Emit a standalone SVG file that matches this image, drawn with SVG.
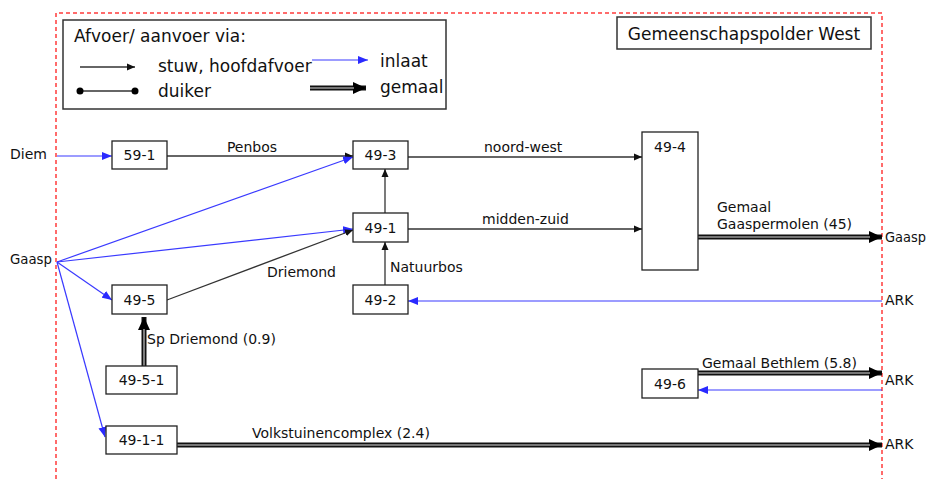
<svg xmlns="http://www.w3.org/2000/svg" width="928" height="479" viewBox="0 0 928 479">
<style>
text{font-family:"DejaVu Sans","Liberation Sans",sans-serif;fill:#111}
.t{font-size:14px}
.L{font-size:17px}
.box{fill:#fff;stroke:#222;stroke-width:1.3}
.blk{stroke:#333;stroke-width:1.3;fill:none;marker-end:url(#ab)}
.blu{stroke:#3a3aff;stroke-width:1.2;fill:none;marker-end:url(#au)}
.gm{stroke:#111;stroke-width:5;fill:none;marker-end:url(#ag)}
.gi{stroke:#999;stroke-width:1.6;fill:none}
.red{stroke:#ff3b3b;stroke-width:1.5;stroke-dasharray:4 3;fill:none}
</style>
<defs>
<marker id="ab" markerUnits="userSpaceOnUse" markerWidth="9" markerHeight="8" refX="8" refY="4" orient="auto"><path d="M0,0.5 L8,4 L0,7.5 z" fill="#111"/></marker>
<marker id="au" markerUnits="userSpaceOnUse" markerWidth="11" markerHeight="9" refX="10" refY="4.5" orient="auto"><path d="M0,0.5 L10,4.5 L0,8.5 z" fill="#2a2aff"/></marker>
<marker id="ag" markerUnits="userSpaceOnUse" markerWidth="14" markerHeight="13" refX="13" refY="6.5" orient="auto"><path d="M0,0.5 L13,6.5 L0,12.5 z" fill="#000"/></marker>
</defs>
<rect width="928" height="479" fill="#fff"/>
<path class="red" d="M56,479 V13 H882 V479"/>

<g id="legend">
<rect x="63" y="20" width="383" height="89" fill="#fff" stroke="#333" stroke-width="1.5"/>
<text class="L" x="74" y="42">Afvoer/ aanvoer via:</text>
<line x1="80" y1="67" x2="135" y2="67" class="blk"/>
<text class="L" x="158" y="72">stuw, hoofdafvoer</text>
<line x1="80" y1="91" x2="135" y2="91" stroke="#333" stroke-width="1.3"/>
<circle cx="80" cy="91" r="3.5" fill="#000"/>
<circle cx="135" cy="91" r="3.5" fill="#000"/>
<text class="L" x="158" y="97">duiker</text>
<line x1="312" y1="60" x2="368" y2="60" class="blu"/>
<text class="L" x="380" y="67">inlaat</text>
<line x1="310" y1="88" x2="366" y2="88" class="gm"/>
<line x1="310" y1="88" x2="354" y2="88" class="gi"/>
<text class="L" x="380" y="93">gemaal</text>
</g>

<g id="title">
<rect x="617" y="17" width="254" height="32" fill="#fff" stroke="#333" stroke-width="1.5"/>
<text class="L" x="744" y="40" text-anchor="middle">Gemeenschapspolder West</text>
</g>

<g id="connectors">
<line x1="57" y1="156" x2="112" y2="156" class="blu"/>
<line x1="167" y1="156" x2="353" y2="156" class="blk"/>
<line x1="57" y1="262" x2="353" y2="157" class="blu"/>
<line x1="57" y1="262" x2="353" y2="229" class="blu"/>
<line x1="57" y1="262" x2="112" y2="300" class="blu"/>
<line x1="57" y1="262" x2="105" y2="437" class="blu"/>
<line x1="167" y1="300" x2="353" y2="230" class="blk"/>
<line x1="385" y1="213" x2="385" y2="169" class="blk"/>
<line x1="385" y1="285" x2="385" y2="242" class="blk"/>
<line x1="882" y1="301" x2="408" y2="301" class="blu"/>
<line x1="408" y1="157" x2="642" y2="157" class="blk"/>
<line x1="408" y1="229" x2="642" y2="229" class="blk"/>
<line x1="698" y1="237" x2="882" y2="237" class="gm"/>
<line x1="698" y1="237" x2="870" y2="237" class="gi"/>
<line x1="144" y1="366" x2="144" y2="317" class="gm"/>
<line x1="144" y1="366" x2="144" y2="329" class="gi"/>
<line x1="177" y1="445" x2="882" y2="445" class="gm"/>
<line x1="177" y1="445" x2="870" y2="445" class="gi"/>
<line x1="698" y1="373" x2="882" y2="373" class="gm"/>
<line x1="698" y1="373" x2="870" y2="373" class="gi"/>
<line x1="882" y1="390" x2="698" y2="390" class="blu"/>
<text class="t" x="252" y="152" text-anchor="middle">Penbos</text>
<text class="t" x="267" y="277">Driemond</text>
<text class="t" x="390" y="272">Natuurbos</text>
<text class="t" x="484" y="152">noord-west</text>
<text class="t" x="482" y="224">midden-zuid</text>
<text class="t" x="717" y="212">Gemaal</text>
<text class="t" x="717" y="229">Gaaspermolen (45)</text>
<text class="t" x="147" y="344">Sp Driemond (0.9)</text>
<text class="t" x="252" y="438">Volkstuinencomplex (2.4)</text>
<text class="t" x="702" y="368">Gemaal Bethlem (5.8)</text>
</g>

<g id="Diem"><text class="t" x="10" y="159">Diem</text></g>
<g id="GaaspL"><text class="t" x="10" y="264" textLength="42" lengthAdjust="spacingAndGlyphs">Gaasp</text></g>
<g id="GaaspR"><text class="t" x="885" y="242" textLength="41" lengthAdjust="spacingAndGlyphs">Gaasp</text></g>
<g id="ARK1"><text class="t" x="885" y="305">ARK</text></g>
<g id="ARK2"><text class="t" x="885" y="385">ARK</text></g>
<g id="ARK3"><text class="t" x="885" y="449">ARK</text></g>

<g id="n59-1"><rect class="box" x="112" y="141" width="55" height="28"/><text class="t" x="139.5" y="160" text-anchor="middle">59-1</text></g>
<g id="n49-3"><rect class="box" x="353" y="141" width="55" height="28"/><text class="t" x="380.5" y="160" text-anchor="middle">49-3</text></g>
<g id="n49-1"><rect class="box" x="353" y="213" width="55" height="29"/><text class="t" x="380.5" y="233" text-anchor="middle">49-1</text></g>
<g id="n49-5"><rect class="box" x="112" y="285" width="55" height="29"/><text class="t" x="139.5" y="305" text-anchor="middle">49-5</text></g>
<g id="n49-2"><rect class="box" x="353" y="285" width="55" height="29"/><text class="t" x="380.5" y="305" text-anchor="middle">49-2</text></g>
<g id="n49-4"><rect class="box" x="642" y="132" width="56" height="138"/><text class="t" x="670" y="152" text-anchor="middle">49-4</text></g>
<g id="n49-5-1"><rect class="box" x="106" y="366" width="71" height="28"/><text class="t" x="141.5" y="385" text-anchor="middle">49-5-1</text></g>
<g id="n49-1-1"><rect class="box" x="106" y="426" width="71" height="28"/><text class="t" x="141.5" y="445" text-anchor="middle">49-1-1</text></g>
<g id="n49-6"><rect class="box" x="642" y="369" width="56" height="29"/><text class="t" x="670" y="389" text-anchor="middle">49-6</text></g>
</svg>
